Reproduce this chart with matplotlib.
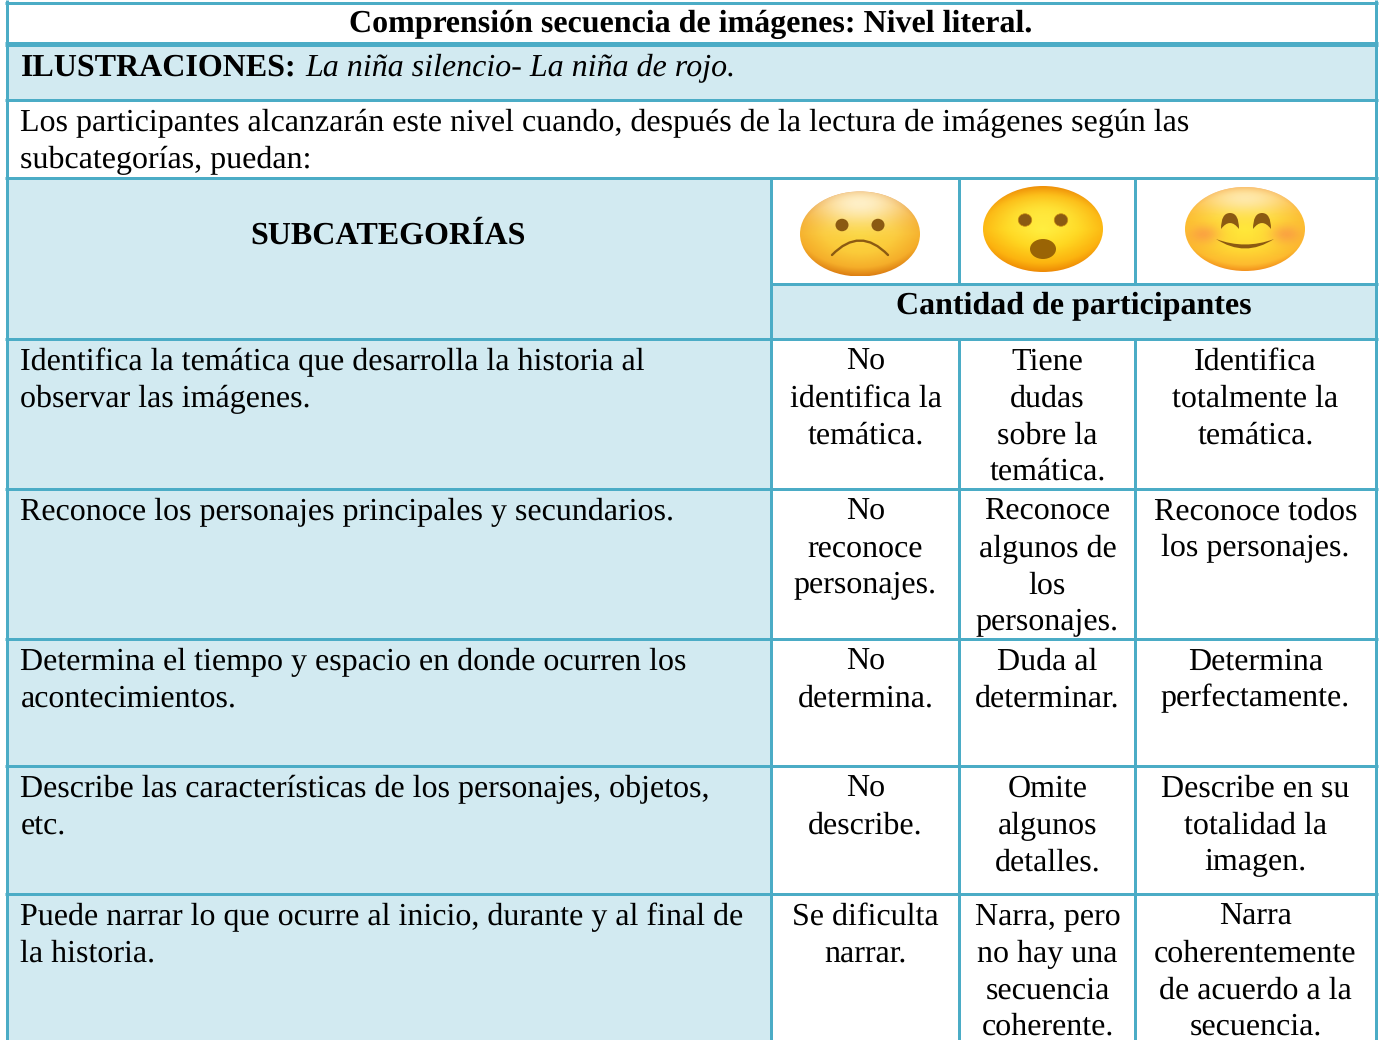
import numpy as np
import matplotlib
matplotlib.use("Agg")
import matplotlib.pyplot as plt
from matplotlib.patches import Ellipse, Rectangle, PathPatch
from matplotlib.path import Path
from matplotlib.colors import LinearSegmentedColormap, to_rgb

plt.rcParams['font.family'] = ['Liberation Serif', 'DejaVu Serif']
plt.rcParams['text.hinting'] = 'no_hinting'
plt.rcParams['text.hinting_factor'] = 1

TITLE = "Comprensión secuencia de imágenes: Nivel literal."
ILLUS_BOLD = "ILUSTRACIONES:"
ILLUS_ITALIC = "La niña silencio- La niña de rojo."
INTRO = ["Los participantes alcanzarán este nivel cuando, después de la lectura de imágenes según las",
         "subcategorías, puedan:"]
HEAD_SUB = "SUBCATEGORÍAS"
HEAD_COUNT = "Cantidad de participantes"

subcategories = [
    ["Identifica la temática que desarrolla la historia al", "observar las imágenes."],
    ["Reconoce los personajes principales y secundarios."],
    ["Determina el tiempo y espacio en donde ocurren los", "acontecimientos."],
    ["Describe las características de los personajes, objetos,", "etc."],
    ["Puede narrar lo que ocurre al inicio, durante y al final de", "la historia."],
]
level_low = [
    ["No", "identifica la", "temática."],
    ["No", "reconoce", "personajes."],
    ["No", "determina."],
    ["No", "describe."],
    ["Se dificulta", "narrar."],
]
level_mid = [
    ["Tiene", "dudas", "sobre la", "temática."],
    ["Reconoce", "algunos de", "los", "personajes."],
    ["Duda al", "determinar."],
    ["Omite", "algunos", "detalles."],
    ["Narra, pero", "no hay una", "secuencia", "coherente."],
]
level_high = [
    ["Identifica", "totalmente la", "temática."],
    ["Reconoce todos", "los personajes."],
    ["Determina", "perfectamente."],
    ["Describe en su", "totalidad la", "imagen."],
    ["Narra", "coherentemente", "de acuerdo a la", "secuencia."],
]

W, H = 1380, 1040
LINE = "#4BACC6"
FILL = "#D2EAF1"
FS = 22.93
PITCH = 36.6

fig = plt.figure(figsize=(W / 100, H / 100), dpi=100, facecolor="white")
ax = fig.add_axes([0, 0, 1, 1])
ax.set_xlim(0, W)
ax.set_ylim(H, 0)
ax.axis("off")

X0, X1, X2, X3, X4 = 6.5, 771, 959, 1135, 1376
row_top = [339, 489, 639, 766, 894, 1040]


def fill(x0, y0, x1, y1, c=FILL):
    ax.add_patch(Rectangle((x0, y0), x1 - x0, y1 - y0, fc=c, ec="none", zorder=1))


fill(X0, 43, X4, 100)
fill(X0, 177, X1, 1040)
fill(X1, 283, X4, 339)


def hline(y, x0=X0, x1=X4, px=3.0):
    ax.plot([x0 - 1.5, x1 + 1.5], [y, y], color=LINE, lw=px * 0.72, zorder=3, solid_capstyle="butt")


def vline(x, y0, y1, px=3.0):
    ax.plot([x, x], [y0, y1], color=LINE, lw=px * 0.72, zorder=3, solid_capstyle="butt")


hline(2.5)
hline(43.5, px=5.0)
hline(100)
hline(177.5)
hline(283.5, x0=X1)
hline(339)
for y in row_top[1:5]:
    hline(y)
vline(X0, 0, 1040)
vline(X4, 0, 1040)
vline(X1, 177, 1040)
vline(X2, 177, 283)
vline(X3, 177, 283)
vline(X2, 339, 1040)
vline(X3, 339, 1040)


def txt(x, y, s, ha="left", weight="normal", style="normal", fs=FS):
    ax.text(x, y, s, ha=ha, va="baseline", fontsize=fs, fontweight=weight,
            fontstyle=style, color="#000000", zorder=5)


txt(691, 32, TITLE, ha="center", weight="bold")
txt(20.5, 76, ILLUS_BOLD, weight="bold")
txt(305, 76, ILLUS_ITALIC, style="italic")
txt(20.5, 131, INTRO[0])
txt(20.5, 168, INTRO[1])
txt(388, 244, HEAD_SUB, ha="center", weight="bold")
txt(1073.5, 314, HEAD_COUNT, ha="center", weight="bold")

first_base = [370, 520, 670, 797, 925]
for i, b in enumerate(first_base):
    for j, s in enumerate(subcategories[i]):
        txt(20.5, b + j * PITCH, s)
    for col, cx in ((level_low, 865.5), (level_mid, 1047.5), (level_high, 1255.5)):
        for j, s in enumerate(col[i]):
            txt(cx, b + j * PITCH, s, ha="center")

# --- emoji faces ---
face_cmap = LinearSegmentedColormap.from_list(
    "face", [(0, "#FBD63A"), (0.45, "#FBCB3A"), (0.8, "#F5AE2A"), (1, "#DD7F12")])
bright_cmap = LinearSegmentedColormap.from_list(
    "bright", [(0, "#FFEE3C"), (0.45, "#FFD620"), (0.8, "#FCB30F"), (1, "#EE8A05")])
smile_cmap = LinearSegmentedColormap.from_list(
    "smile", [(0, "#FFE83A"), (0.5, "#FFD834"), (0.85, "#FDBB2F"), (1, "#F3921C")])
BROWN = "#8B5A12"


def face(cx, cy, rx, ry, cmap, fy=0.0):
    xs = np.linspace(-1, 1, 240)
    xx, yy = np.meshgrid(xs, xs)
    r = np.clip(np.sqrt(xx ** 2 + yy ** 2) * 0.75 + 0.25 * np.abs(yy - fy), 0, 1)
    im = ax.imshow(r, extent=(cx - rx, cx + rx, cy + ry, cy - ry), cmap=cmap, vmin=0, vmax=1,
                   zorder=2, aspect="auto", interpolation="bilinear")
    clip = Ellipse((cx, cy), 2 * rx, 2 * ry, transform=ax.transData, fc="none", ec="none")
    ax.add_patch(clip)
    im.set_clip_path(clip)
    return clip


def glow(clip, cx, cy, sx, sy, color, peak, z=2.5):
    """Soft Gaussian highlight or blush inside a face."""
    xs = np.linspace(-3, 3, 120)
    xx, yy = np.meshgrid(xs, xs)
    rgba = np.zeros((120, 120, 4))
    rgba[..., :3] = to_rgb(color)
    rgba[..., 3] = peak * np.exp(-(xx ** 2 + yy ** 2) / 2)
    im = ax.imshow(rgba, extent=(cx - 3 * sx, cx + 3 * sx, cy + 3 * sy, cy - 3 * sy),
                   zorder=z, aspect="auto", interpolation="bilinear")
    im.set_clip_path(clip)


def quad(p0, p1, p2, lw, color=BROWN):
    path = Path([p0, p1, p2], [Path.MOVETO, Path.CURVE3, Path.CURVE3])
    ax.add_patch(PathPatch(path, fc="none", ec=color, lw=lw, zorder=4, capstyle="round"))


# sad
c = face(860, 234, 60, 42.5, face_cmap)
glow(c, 860, 203, 36, 15, "#FFF3D0", 0.95)
for ex in (842, 878):
    ax.add_patch(Ellipse((ex, 225), 13, 12.5, fc=BROWN, ec="none", zorder=4))
quad((832, 255), (860, 226), (888, 255), 1.7)

# surprised
c = face(1043, 229, 60, 43, bright_cmap)
glow(c, 1043, 215, 30, 14, "#FFF04A", 0.6)
for ex in (1025, 1061):
    ax.add_patch(Ellipse((ex, 220), 13.5, 12.5, fc=BROWN, ec="#C98A10", lw=0.5, zorder=4))
ax.add_patch(Ellipse((1043, 249), 26, 20, fc="#9A6405", ec="none", zorder=4))

# smile
c = face(1245, 229, 60, 42, smile_cmap)
glow(c, 1245, 198, 34, 11, "#FFEFC0", 0.85)
for cx_ in (1204, 1286):
    glow(c, cx_, 234, 11, 7, "#F9874A", 0.6, z=2.6)
for ex in (1230, 1262):
    path = Path([(ex - 9, 229), (ex - 9, 213), (ex, 213), (ex + 9, 213), (ex + 9, 229),
                 (ex, 217), (ex - 9, 229)],
                [Path.MOVETO, Path.CURVE3, Path.CURVE3, Path.CURVE3, Path.CURVE3,
                 Path.CURVE3, Path.CURVE3])
    ax.add_patch(PathPatch(path, fc=BROWN, ec="none", zorder=4))
mouth = Path([(1216, 239), (1245, 250), (1274, 239), (1245, 258), (1216, 239)],
             [Path.MOVETO, Path.CURVE3, Path.CURVE3, Path.CURVE3, Path.CURVE3])
ax.add_patch(PathPatch(mouth, fc=BROWN, ec="none", zorder=4))

fig.savefig("out.png", dpi=100, facecolor="white")
